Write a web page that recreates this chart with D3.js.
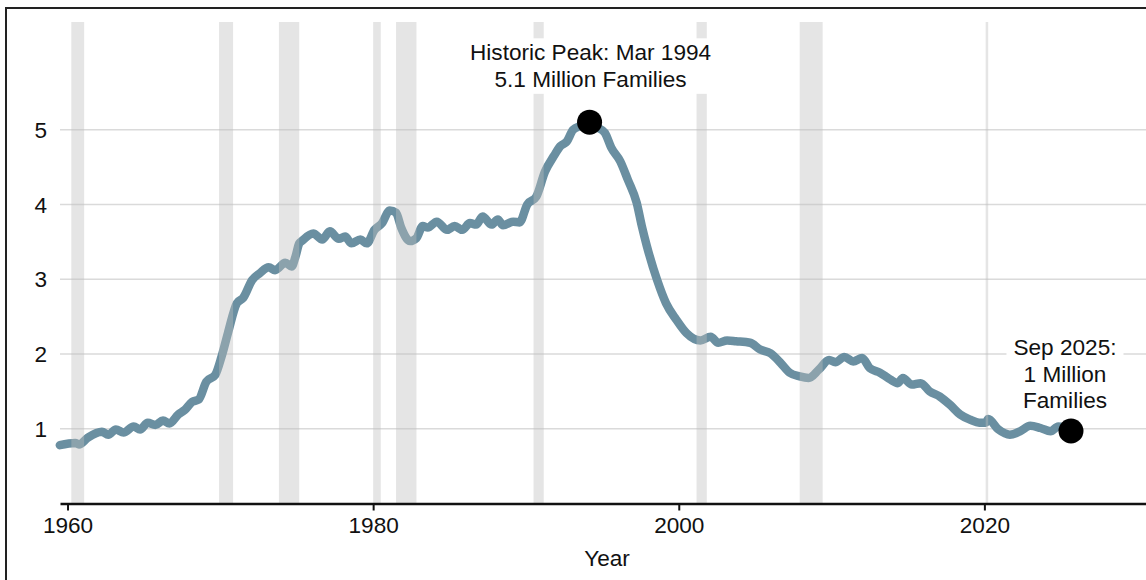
<!DOCTYPE html>
<html>
<head>
<meta charset="utf-8">
<script src="https://cdn.jsdelivr.net/npm/d3@7"></script>
<style>
    body { margin: 0; background: #fff; }
    svg { display: block; font-family: "Liberation Sans", Arial, sans-serif; }
</style>
</head>
<body>
<svg id="chart" width="1146" height="580"></svg>
<script>
// families receiving cash assistance, millions
var months = [
    '1959-07', '1960-07', '1960-10', '1961-05', '1962-04', '1962-09', '1963-03', '1963-09',
    '1964-05', '1964-10', '1965-04', '1965-10', '1966-04', '1966-09', '1967-04', '1967-09',
    '1968-03', '1968-08', '1969-02', '1969-09', '1970-02', '1970-07', '1971-02', '1971-07',
    '1972-02', '1972-08', '1973-03', '1973-08', '1974-04', '1974-09', '1974-12', '1975-03',
    '1975-05', '1976-02', '1976-09', '1977-03', '1977-10', '1978-03', '1978-08', '1979-03',
    '1979-08', '1980-02', '1980-08', '1981-02', '1981-07', '1981-11', '1982-06', '1982-11',
    '1983-04', '1983-08', '1984-03', '1984-11', '1985-05', '1985-11', '1986-05', '1986-10',
    '1987-03', '1987-10', '1988-03', '1988-07', '1989-03', '1989-08', '1990-02', '1990-09',
    '1991-04', '1991-11', '1992-04', '1992-09', '1993-02', '1993-08', '1994-03', '1994-09',
    '1995-03', '1995-08', '1996-03', '1996-09', '1997-04', '1997-08', '1997-12', '1998-08',
    '1999-03', '1999-11', '2000-07', '2001-06', '2002-02', '2002-08', '2003-03', '2003-10',
    '2004-09', '2005-05', '2006-01', '2006-09', '2007-04', '2007-12', '2008-07', '2009-03',
    '2009-11', '2010-04', '2010-11', '2011-06', '2012-01', '2012-07', '2013-03', '2013-11',
    '2014-05', '2014-09', '2015-04', '2015-11', '2016-06', '2017-02', '2017-10', '2018-06',
    '2019-02', '2019-09', '2020-02', '2020-04', '2020-12', '2021-09', '2022-05', '2023-01',
    '2023-09', '2024-05', '2024-11', '2025-09'
];
var families = [
    0.78, 0.81, 0.79, 0.88, 0.96, 0.92, 0.99, 0.95,
    1.03, 0.99, 1.08, 1.05, 1.11, 1.07, 1.19, 1.25,
    1.36, 1.39, 1.63, 1.72, 1.97, 2.28, 2.68, 2.75,
    2.99, 3.08, 3.16, 3.12, 3.22, 3.17, 3.30, 3.48,
    3.51, 3.61, 3.53, 3.64, 3.54, 3.57, 3.48, 3.53,
    3.48, 3.66, 3.75, 3.92, 3.89, 3.69, 3.51, 3.55,
    3.71, 3.69, 3.77, 3.66, 3.71, 3.66, 3.75, 3.73,
    3.84, 3.73, 3.80, 3.72, 3.77, 3.76, 4.00, 4.10,
    4.44, 4.65, 4.78, 4.84, 5.00, 5.05, 5.10, 5.03,
    4.96, 4.76, 4.58, 4.33, 4.02, 3.71, 3.44, 2.99,
    2.68, 2.46, 2.28, 2.18, 2.23, 2.15, 2.18, 2.17,
    2.15, 2.06, 2.01, 1.88, 1.75, 1.70, 1.68, 1.79,
    1.92, 1.89, 1.96, 1.90, 1.945, 1.81, 1.75, 1.66,
    1.61, 1.68, 1.59, 1.61, 1.50, 1.43, 1.32, 1.19,
    1.12, 1.08, 1.08, 1.13, 0.99, 0.92, 0.965, 1.04,
    1.01, 0.965, 1.03, 0.97
];

var recessionStarts = ['1960-04', '1969-12', '1973-11', '1980-01', '1981-07', '1990-07', '2001-03', '2007-12', '2020-02'];
var recessionEnds   = ['1961-02', '1970-11', '1975-03', '1980-07', '1982-11', '1991-03', '2001-11', '2009-06', '2020-04'];

var yTicks = [1, 2, 3, 4, 5];
var xTicks = ['1960', '1980', '2000', '2020'];

var peakLabel = ['Historic Peak: Mar 1994', '5.1 Million Families'];
var lastLabel = ['Sep 2025:', '1 Million', 'Families'];

var parseMonth = d3.timeParse('%Y-%m');

var data = months.map(function(m, i) {
    return { date: parseMonth(m), value: families[i] };
});

var svg = d3.select('#chart'),
    width = +svg.attr('width'),
    height = +svg.attr('height');

var plotLeft = 60, plotRight = width, plotTop = 22, plotBottom = 503.5;
var fontSize = '22.6px';

var x = d3.scaleTime()
    .domain([new Date(1959, 6, 5), new Date(2030, 6, 30)])
    .range([plotLeft, plotRight]);

var y = d3.scaleLinear()
    .domain([0, 6.44])
    .range([plotBottom, plotTop]);

// frame
svg.append('rect')
    .attr('x', 6)
    .attr('y', 8)
    .attr('width', width + 20)
    .attr('height', height + 20)
    .attr('fill', 'white')
    .attr('stroke', '#222')
    .attr('stroke-width', 2);

// gridlines
svg.append('g')
    .selectAll('line')
    .data(yTicks)
    .enter()
    .append('line')
    .attr('x1', plotLeft)
    .attr('x2', plotRight)
    .attr('y1', function(d) { return y(d); })
    .attr('y2', function(d) { return y(d); })
    .attr('stroke', '#dadada')
    .attr('stroke-width', 1.5);

svg.append('g')
    .selectAll('text')
    .data(yTicks)
    .enter()
    .append('text')
    .attr('x', 47)
    .attr('y', function(d) { return y(d); })
    .attr('dy', '0.36em')
    .attr('text-anchor', 'end')
    .style('font-size', fontSize)
    .attr('fill', '#111')
    .text(function(d) { return d; });

// the series
var line = d3.line()
    .x(function(d) { return x(d.date); })
    .y(function(d) { return y(d.value); })
    .curve(d3.curveMonotoneX);

svg.append('path')
    .datum(data)
    .attr('d', line)
    .attr('fill', 'none')
    .attr('stroke', '#6a8fa1')
    .attr('stroke-width', 8.5)
    .attr('stroke-linejoin', 'round')
    .attr('stroke-linecap', 'round');

// recession shading sits over the line
svg.append('g')
    .selectAll('rect')
    .data(recessionStarts)
    .enter()
    .append('rect')
    .attr('x', function(d) { return x(parseMonth(d)); })
    .attr('width', function(d, i) { return x(parseMonth(recessionEnds[i])) - x(parseMonth(d)); })
    .attr('y', plotTop)
    .attr('height', plotBottom - plotTop)
    .attr('fill', '#bdbdbd')
    .attr('fill-opacity', 0.4);

// x axis
var xAxis = d3.axisBottom(x)
    .tickValues(xTicks.map(function(t) { return new Date(+t, 0, 1); }))
    .tickFormat(d3.timeFormat('%Y'))
    .tickSize(7)
    .tickSizeOuter(0)
    .tickPadding(6);

var gx = svg.append('g')
    .attr('transform', 'translate(0,' + plotBottom + ')')
    .call(xAxis);

gx.select('.domain').attr('stroke', '#111').attr('stroke-width', 2.5);
gx.selectAll('.tick line').attr('stroke', '#111').attr('stroke-width', 2);
gx.selectAll('.tick text')
    .style('font-size', fontSize)
    .style('font-family', '"Liberation Sans", Arial, sans-serif')
    .attr('fill', '#111');

svg.append('text')
    .attr('x', (plotLeft + plotRight) / 2 + 4)
    .attr('y', 566)
    .attr('text-anchor', 'middle')
    .style('font-size', fontSize)
    .attr('fill', '#111')
    .text('Year');

// annotations
function annotate(point, lines, dx, dyFirst) {
    var g = svg.append('g');
    var cx = x(point.date) + dx;
    var cy = y(point.value) + dyFirst;
    g.selectAll('text')
        .data(lines)
        .enter()
        .append('text')
        .attr('x', cx)
        .attr('y', function(d, i) { return cy + i * 26.5; })
        .attr('dy', '0.36em')
        .attr('text-anchor', 'middle')
        .style('font-size', fontSize)
        .attr('fill', '#111')
        .text(function(d) { return d; });

    var box = g.node().getBBox();
    g.insert('rect', 'text')
        .attr('x', box.x - 7)
        .attr('y', box.y - 2)
        .attr('width', box.width + 14)
        .attr('height', box.height + 4)
        .attr('fill', 'white');
}

var peak = data[months.indexOf('1994-03')];
var last = data[data.length - 1];

annotate(peak, peakLabel, 1, -70);
annotate(last, lastLabel, -6, -84);

svg.append('g')
    .selectAll('circle')
    .data([peak, last])
    .enter()
    .append('circle')
    .attr('cx', function(d) { return x(d.date); })
    .attr('cy', function(d) { return y(d.value); })
    .attr('r', 12.5)
    .attr('fill', 'black');
</script>
</body>
</html>
